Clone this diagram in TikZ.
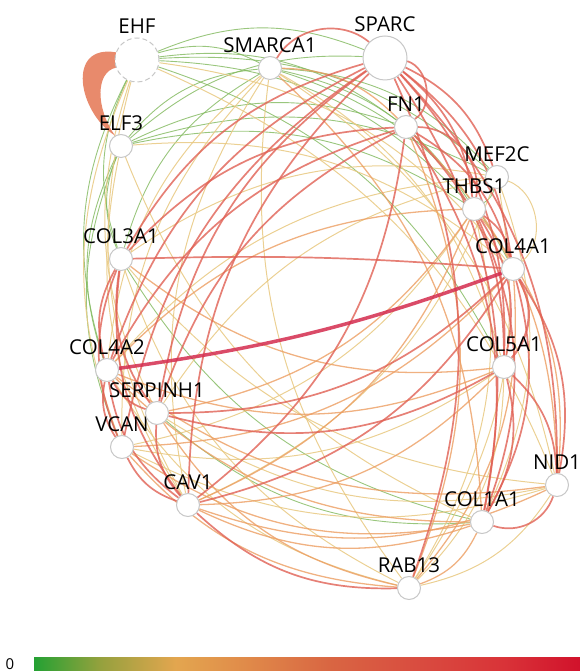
\documentclass[tikz,border=0pt]{standalone}
\usepackage{fontspec}
\setsansfont{Open Sans}
\pgfmathsetmacro{\genesize}{23}
\pgfmathsetmacro{\hubsize}{44}
\pgfmathsetmacro{\linkbend}{22}
\definecolor{linkA}{RGB}{128,184,92}
\definecolor{linkB}{RGB}{232,200,128}
\definecolor{linkC}{RGB}{236,158,98}
\definecolor{linkD}{RGB}{224,96,84}
\definecolor{linkE}{RGB}{212,44,78}
\definecolor{pairlink}{RGB}{232,138,108}
\pgfdeclarehorizontalshading{scorebar}{100bp}{%
  rgb(0bp)=(0.14,0.63,0.20);
  rgb(25bp)=(0.14,0.63,0.20);
  rgb(31bp)=(0.58,0.63,0.24);
  rgb(38bp)=(0.89,0.65,0.31);
  rgb(44bp)=(0.88,0.55,0.29);
  rgb(52bp)=(0.85,0.40,0.26);
  rgb(60bp)=(0.85,0.30,0.25);
  rgb(68bp)=(0.85,0.20,0.22);
  rgb(75bp)=(0.82,0.07,0.17);
  rgb(100bp)=(0.82,0.07,0.17)}
\pgfdeclarelayer{links}
\pgfsetlayers{links,main}
\tikzset{
  gene/.style={circle, draw=black!22, fill=white, line width=1pt,
    minimum size=\genesize*1pt, inner sep=0pt},
  hub/.style={gene, minimum size=\hubsize*1pt},
  genelabel/.style={font=\sffamily\fontsize{20.5}{24}\selectfont, text=black},
  weakest/.style={draw=linkA, line width=0.9pt, draw opacity=0.8},
  weak/.style={draw=linkB, line width=1pt, draw opacity=0.85},
  medium/.style={draw=linkC, line width=1.3pt, draw opacity=0.8},
  strong/.style={draw=linkD, line width=1.7pt, draw opacity=0.8},
  strongest/.style={draw=linkE, line width=3.5pt, draw opacity=0.85},
}

\begin{document}
\begin{tikzpicture}[x=1pt, y=1pt]
    \useasboundingbox (0,0) rectangle (580,672);
    % define genes
    \node[hub, dashed, dash pattern=on 5pt off 3pt, label={[genelabel]above:EHF}] (ehf) at (137,612) {};
    \node[gene, label={[genelabel]above:SMARCA1}] (sma) at (270,604) {};
    \node[hub, label={[genelabel]above:SPARC}] (spa) at (385,614) {};
    \node[gene, label={[genelabel]above:FN1}] (fn) at (406,545) {};
    \node[gene, label={[genelabel]above:MEF2C}] (mef) at (497,495) {};
    \node[gene, label={[genelabel]above:THBS1}] (thb) at (474,463) {};
    \node[gene, label={[genelabel]above:COL4A1}] (c4a1) at (513,403) {};
    \node[gene, label={[genelabel]above:COL5A1}] (c5a1) at (504,305) {};
    \node[gene, label={[genelabel]above:NID1}] (nid) at (557,187) {};
    \node[gene, label={[genelabel]above:COL1A1}] (c1a1) at (482,150) {};
    \node[gene, label={[genelabel]above:RAB13}] (rab) at (409,84) {};
    \node[gene, label={[genelabel]above:CAV1}] (cav) at (188,167) {};
    \node[gene, label={[genelabel]above:VCAN}] (vcan) at (122,225) {};
    \node[gene, label={[genelabel]above:SERPINH1}] (serp) at (157,259) {};
    \node[gene, label={[genelabel]above:COL4A2}] (c4a2) at (107,302) {};
    \node[gene, label={[genelabel]above:COL3A1}] (c3a1) at (121,413) {};
    \node[gene, label={[genelabel]above:ELF3}] (elf) at (121,526) {};
    % draw links, weakest to strongest
    \begin{pgfonlayer}{links}
    \foreach \a/\b in {ehf/sma, ehf/spa, ehf/fn, ehf/thb, ehf/c5a1, c3a1/ehf,
        c4a2/ehf, elf/sma, elf/spa, elf/fn, elf/thb, c3a1/elf, c4a2/elf,
        vcan/elf, sma/thb, sma/c4a1, c3a1/sma, mef/thb, c1a1/serp,
        c1a1/c3a1, sma/mef, elf/mef, ehf/mef}
        \draw[weakest] (\a) to[bend left=\linkbend] (\b);
    \foreach \a/\b in {c4a2/sma, cav/sma, vcan/sma, rab/sma, sma/c5a1,
        sma/nid, cav/ehf, serp/ehf, cav/elf, c1a1/elf, elf/c4a1, mef/cav,
        c4a2/mef, mef/rab, mef/c1a1, serp/mef, c3a1/mef, thb/rab, thb/vcan,
        nid/c3a1, nid/vcan, c5a1/vcan, nid/serp, rab/c4a2, c5a1/rab,
        nid/rab, rab/c3a1, ehf/c4a1, ehf/nid, vcan/ehf}
        \draw[weak] (\a) to[bend left=\linkbend] (\b);
    \foreach \a/\b in {fn/rab, fn/nid, thb/cav, c4a2/thb, thb/serp,
        c4a1/vcan, c4a1/rab, c5a1/cav, c5a1/c4a2, c1a1/cav, c1a1/vcan,
        c1a1/c4a2, nid/cav, nid/c4a2, rab/vcan, rab/serp, c5a1/c3a1,
        sma/c1a1, sma/fn, c1a1/rab, thb/nid}
        \draw[medium] (\a) to[bend left=\linkbend] (\b);
    \foreach \a/\b in {spa/thb, spa/c4a1, spa/c5a1, spa/nid, spa/c1a1,
        cav/spa, vcan/spa, serp/spa, c4a2/spa, c3a1/spa, spa/rab, spa/mef,
        fn/c4a1, fn/c5a1, fn/c1a1, fn/cav, serp/fn, c3a1/fn, c4a2/fn,
        c4a1/c1a1, c4a1/nid, c4a1/cav, c4a1/serp, thb/c4a1, thb/c5a1,
        thb/c1a1, c5a1/c1a1, c5a1/serp, cav/serp, cav/vcan, cav/c4a2,
        c4a2/c3a1, serp/c4a2, vcan/c4a2, cav/c3a1, c5a1/nid, rab/cav,
        serp/c3a1, vcan/c3a1}
        \draw[strong] (\a) to[bend left=\linkbend] (\b);
    % links with their own bend
    \draw[weak] (mef) to[bend left=60] (c4a1);
    \draw[strong] (c3a1) to[bend left=3] (c4a1);
    \draw[strong] (spa) to[bend left=65] (fn);
    \draw[strong] (sma) to[bend left=50] (spa);
    \draw[strong] (fn) to[bend left=50] (thb);
    \draw[strong] (nid) to[bend left=45] (c1a1);
    \draw[strong, line width=2.2pt] (c4a1) to[bend left=35] (c5a1);
    \draw[strongest] (c4a1) to[bend left=6] (c4a2);
    % tapered link between the two ETS factors
    \fill[pairlink] (ehf.160) .. controls (66,628) and (78,560) .. (elf.120)
        .. controls (95,565) and (96,600) .. (ehf.200) -- cycle;
    \end{pgfonlayer}
    % colour scale
    \shade[shading=scorebar] (34,1) rectangle (580,14);
    \node[font=\sffamily\fontsize{15}{17}\selectfont] (scoremin) at (10,7.5) {0};
\end{tikzpicture}
\end{document}
